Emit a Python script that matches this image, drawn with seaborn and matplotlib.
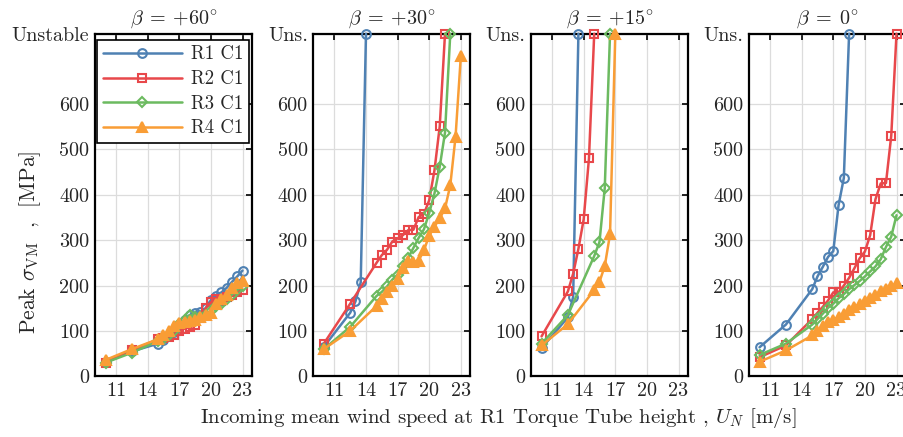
import matplotlib
matplotlib.use("Agg")
import matplotlib.pyplot as plt
import seaborn as sns
import pandas as pd

sns.set_style("white")
plt.rcParams["font.family"] = ["cmr10", "DejaVu Serif"]
plt.rcParams["mathtext.fontset"] = "cm"
plt.rcParams["axes.unicode_minus"] = False

UNS = 755  # plotting value used for "Unstable"

titles = [r"$\beta\;=\:{+}60^{\circ}$", r"$\beta\;=\:{+}30^{\circ}$",
          r"$\beta\;=\:{+}15^{\circ}$", r"$\beta\;=\;0^{\circ}$"]
series_names = ["R1 C1", "R2 C1", "R3 C1", "R4 C1"]
colors = ["#4f81b3", "#e8484b", "#6cba60", "#f99d35"]
markers = ["o", "s", "D", "^"]

# ---- beta = +60 ----
u60 = [10, 12.5, 15, 15.5, 16, 16.5, 17, 17.5, 18, 18.5, 19, 19.5, 20, 20.5, 21, 21.5, 22, 22.5, 23]
b60_r1 = [32, 55, 72, 80, 88, 97, 110, 125, 135, 140, 142, 150, 168, 178, 185, 195, 208, 220, 233]
b60_r2 = [30, 57, 82, 85, 86, 92, 100, 105, 108, 112, 128, 150, 163, 170, 165, 175, 180, 185, 190]
b60_r3 = [30, 52, 78, 82, 90, 100, 115, 125, 135, 130, 130, 135, 145, 155, 160, 170, 180, 190, 200]
b60_r4 = [36, 60, 82, 90, 100, 110, 118, 120, 122, 125, 130, 135, 140, 160, 170, 180, 195, 205, 210]

# ---- beta = +30 ----
u30_r1 = [10, 12.5, 13, 13.5, 14]
b30_r1 = [65, 140, 165, 207, UNS]
u30_r2 = [10, 12.5, 15, 15.5, 16, 16.5, 17, 17.5, 18, 18.5, 19, 19.5, 20, 20.5, 21, 21.5]
b30_r2 = [72, 160, 250, 267, 279, 297, 304, 311, 322, 323, 351, 358, 388, 454, 551, UNS]
u30_r3 = [10, 12.5, 15, 15.5, 16, 16.5, 17, 17.5, 18, 18.5, 19, 19.5, 20, 20.5, 21, 21.5, 22]
b30_r3 = [60, 109, 177, 186, 198, 213, 224, 242, 261, 283, 305, 324, 360, 403, 462, 537, UNS]
u30_r4 = [10, 12.5, 15, 15.5, 16, 16.5, 17, 17.5, 18, 18.5, 19, 19.5, 20, 20.5, 21, 21.5, 22, 22.5, 23]
b30_r4 = [60, 100, 155, 170, 186, 200, 215, 238, 253, 252, 255, 278, 310, 330, 348, 370, 421, 528, 705]

# ---- beta = +15 ----
u15_r1 = [10, 12.5, 13, 13.5]
b15_r1 = [62, 130, 175, UNS]
u15_r2 = [10, 12.5, 13, 13.5, 14, 14.5, 15]
b15_r2 = [88, 187, 226, 281, 346, 480, UNS]
u15_r3 = [10, 12.5, 15, 15.5, 16, 16.5]
b15_r3 = [72, 135, 265, 296, 415, UNS]
u15_r4 = [10, 12.5, 15, 15.5, 16, 16.5, 17]
b15_r4 = [68, 115, 190, 208, 243, 313, UNS]

# ---- beta = 0 ----
u0_r1 = [10, 12.5, 15, 15.5, 16, 16.5, 17, 17.5, 18, 18.5]
b0_r1 = [64, 114, 192, 220, 241, 263, 276, 377, 437, UNS]
u0 = [10, 12.5, 15, 15.5, 16, 16.5, 17, 17.5, 18, 18.5, 19, 19.5, 20, 20.5, 21, 21.5, 22, 22.5, 23]
b0_r2 = [42, 68, 126, 140, 153, 167, 185, 185, 200, 217, 238, 260, 275, 311, 390, 425, 426, 530, UNS]
b0_r3 = [47, 72, 114, 126, 138, 151, 160, 172, 181, 192, 201, 210, 220, 231, 242, 258, 285, 308, 355]
b0_r4 = [32, 57, 90, 100, 110, 119, 125, 131, 138, 146, 152, 160, 165, 172, 180, 187, 192, 199, 205]

panels = [
    [(u60, b60_r1), (u60, b60_r2), (u60, b60_r3), (u60, b60_r4)],
    [(u30_r1, b30_r1), (u30_r2, b30_r2), (u30_r3, b30_r3), (u30_r4, b30_r4)],
    [(u15_r1, b15_r1), (u15_r2, b15_r2), (u15_r3, b15_r3), (u15_r4, b15_r4)],
    [(u0_r1, b0_r1), (u0, b0_r2), (u0, b0_r3), (u0, b0_r4)],
]

xticks = [11, 14, 17, 20, 23]
yticks = [0, 100, 200, 300, 400, 500, 600, UNS]

W, H = 904, 437
fig = plt.figure(figsize=(W / 100, H / 100), dpi=100)
lefts = [95, 313.3, 531, 749]
aw, top_px, bot_px = 157, 33.7, 376.3

for i, (left, title, data) in enumerate(zip(lefts, titles, panels)):
    ax = fig.add_axes([left / W, 1 - bot_px / H, aw / W, (bot_px - top_px) / H])
    for j, (u, s) in enumerate(data):
        df = pd.DataFrame({"U": u, "S": s})
        filled = markers[j] == "^"
        ms = 7.5 if filled else (5.5 if markers[j] == "D" else 6.3)
        sns.lineplot(data=df, x="U", y="S", ax=ax, color=colors[j],
                     marker=markers[j], markersize=ms, linewidth=1.8,
                     markerfacecolor=colors[j] if filled else "none",
                     markeredgecolor=colors[j], markeredgewidth=1.5,
                     clip_on=False, zorder=3 + j,
                     label=series_names[j] if i == 0 else None,
                     legend=False, sort=False, estimator=None)
    ax.set_xlim(9.0, 23.9)
    ax.set_ylim(0, UNS)
    ax.set_xticks(xticks)
    ax.set_xticklabels([str(t) for t in xticks])
    ax.set_yticks(yticks)
    labels = [str(t) for t in yticks[:-1]] + ["Unstable" if i == 0 else "Uns."]
    ax.set_yticklabels(labels)
    ax.grid(True, color="#dcdcdc", linewidth=0.9)
    ax.set_axisbelow(True)
    ax.tick_params(direction="in", top=True, right=True, length=4, width=1.2,
                   labelsize=14.5, pad=4, color="black")
    for sp in ax.spines.values():
        sp.set_linewidth(1.6)
        sp.set_color("black")
    ax.set_xlabel("")
    ax.set_ylabel("")
    ax.set_title(title, fontsize=14.5, pad=7)
    if i == 0:
        ax.set_ylabel(r"Peak $\sigma_{\rm VM}$  ,  [MPa]", fontsize=15.5)
        ax.yaxis.set_label_coords(-0.33, 0.39)
        leg = ax.legend(loc="upper left", bbox_to_anchor=(0.015, 0.982),
                        borderaxespad=0, fontsize=13.5, handlelength=4.2,
                        fancybox=False, framealpha=1, edgecolor="black",
                        labelspacing=0.36, borderpad=0.3, handletextpad=0.5)
        leg.get_frame().set_linewidth(1.2)

fig.text(498 / W, 1 - 418 / H,
         r"Incoming mean wind speed at R1 Torque Tube height , $U_N$ [m/s]",
         ha="center", va="center", fontsize=15)

fig.savefig("out.png", dpi=100)
